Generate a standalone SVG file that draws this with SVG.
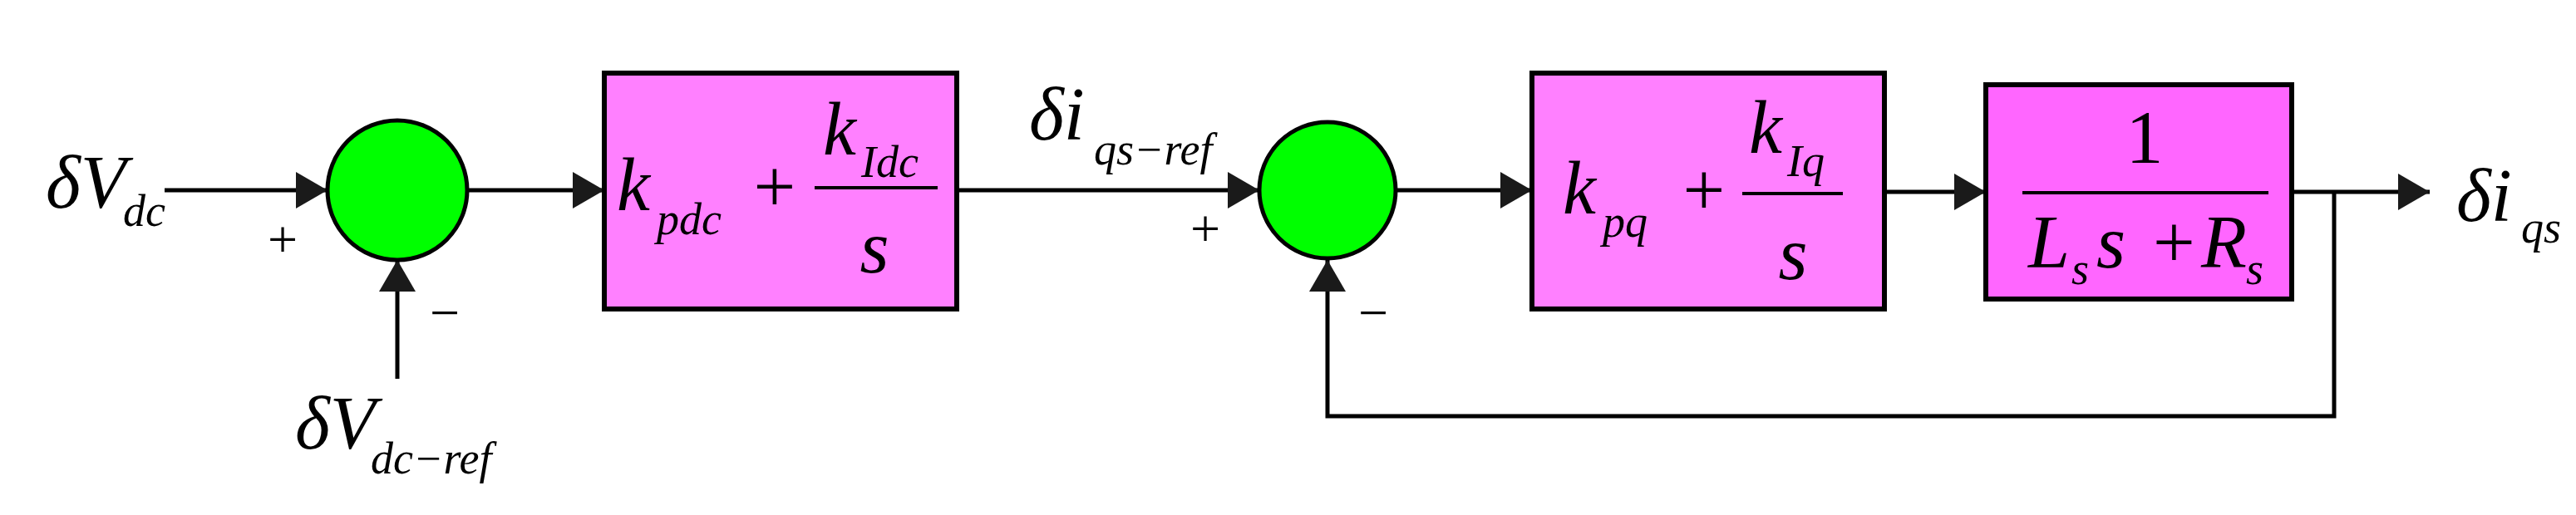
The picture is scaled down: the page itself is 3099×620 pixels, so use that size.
<svg xmlns="http://www.w3.org/2000/svg" width="3099" height="620" viewBox="0 0 3099 620">
<style>
.t{font-family:"Liberation Serif",serif;font-style:italic;fill:#000}
.m{font-family:"Liberation Serif",serif;fill:#000}
.big{font-size:90px}
.sub{font-size:54px}
.ln{stroke:#000;stroke-width:5;fill:none}
.box{stroke:#000;stroke-width:6}
.sum{fill:#00FF00;stroke:#000;stroke-width:5}
</style>
<defs>
<marker id="ah" markerUnits="userSpaceOnUse" markerWidth="40" markerHeight="44" refX="38" refY="22" orient="auto">
<path d="M0,0 L38,22 L0,44 Z" fill="#1a1a1a"/>
</marker>
</defs>
<rect width="3099" height="620" fill="#fff"/>
<g id="connectors">
<line class="ln" x1="198" y1="229" x2="394" y2="229" marker-end="url(#ah)"/>
<line class="ln" x1="478" y1="456" x2="478" y2="313" marker-end="url(#ah)"/>
<line class="ln" x1="562" y1="229" x2="727" y2="229" marker-end="url(#ah)"/>
<line class="ln" x1="1151" y1="229" x2="1515" y2="229" marker-end="url(#ah)"/>
<line class="ln" x1="1679" y1="229" x2="1843" y2="229" marker-end="url(#ah)"/>
<line class="ln" x1="2267" y1="231" x2="2389" y2="231" marker-end="url(#ah)"/>
<line class="ln" x1="2757" y1="231" x2="2923" y2="231" marker-end="url(#ah)"/>
<polyline class="ln" points="2808,231 2808,501 1597,501 1597,313" marker-end="url(#ah)"/>
</g>
<g id="sum1"><circle class="sum" cx="478" cy="229" r="84"/>
<text class="m" x="340" y="310" font-size="64" text-anchor="middle">+</text>
<text class="m" x="535" y="398" font-size="64" text-anchor="middle">−</text></g>
<g id="sum2"><circle class="sum" cx="1597" cy="229" r="82"/>
<text class="m" x="1450" y="297" font-size="64" text-anchor="middle">+</text>
<text class="m" x="1652" y="398" font-size="64" text-anchor="middle">−</text></g>
<g id="box1">
<rect class="box" x="727" y="88" width="424" height="284" fill="#FF80FF"/>
<text class="t big" x="742" y="253">k</text><text class="t sub" x="790" y="282">pdc</text>
<text class="m big" x="932" y="255" text-anchor="middle">+</text>
<line x1="980" y1="226" x2="1128" y2="226" stroke="#000" stroke-width="4"/>
<text class="t big" x="990" y="186">k</text><text class="t sub" x="1036" y="213">Idc</text>
<text class="t big" x="1052" y="328" text-anchor="middle">s</text>
</g>
<g id="box2">
<rect class="box" x="1843" y="88" width="424" height="284" fill="#FF80FF"/>
<text class="t big" x="1880" y="257">k</text><text class="t sub" x="1928" y="285">pq</text>
<text class="m big" x="2050" y="259" text-anchor="middle">+</text>
<line x1="2096" y1="233" x2="2217" y2="233" stroke="#000" stroke-width="4"/>
<text class="t big" x="2104" y="184">k</text><text class="t sub" x="2150" y="212">Iq</text>
<text class="t big" x="2157" y="336" text-anchor="middle">s</text>
</g>
<g id="box3">
<rect class="box" x="2389" y="102" width="368" height="258" fill="#FF66FF"/>
<text class="m big" x="2580" y="196" text-anchor="middle">1</text>
<line x1="2433" y1="232" x2="2729" y2="232" stroke="#000" stroke-width="4"/>
<text class="t big" x="2440" y="322">L</text><text class="t sub" x="2492" y="342">s</text>
<text class="t big" x="2522" y="322">s</text>
<text class="m big" x="2590" y="322">+</text>
<text class="t big" x="2648" y="322">R</text><text class="t sub" x="2702" y="342">s</text>
</g>
<g id="labels">
<text class="t big" x="55" y="250">δV</text><text class="t sub" x="148" y="272">dc</text>
<text class="t big" x="355" y="540">δV</text><text class="t sub" x="446" y="570">dc−ref</text>
<text class="t big" x="1238" y="168">δi</text><text class="t sub" x="1316" y="198">qs−ref</text>
<text class="t big" x="2955" y="266">δi</text><text class="t sub" x="3033" y="292">qs</text>
</g>
</svg>
